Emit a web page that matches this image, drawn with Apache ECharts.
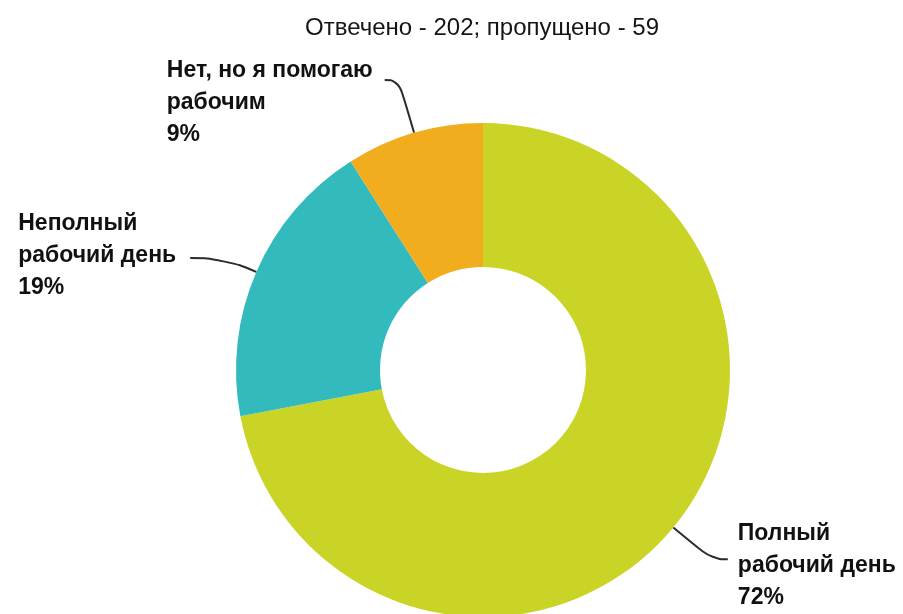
<!DOCTYPE html>
<html>
<head>
<meta charset="utf-8">
<script src="https://cdn.jsdelivr.net/npm/echarts@6/dist/echarts.min.js"></script>
<style>
  html, body { margin: 0; padding: 0; background: #ffffff; }
  #chart { width: 903px; height: 614px; }
</style>
</head>
<body>
<div id="chart"></div>
<script>
// Survey answers: share of respondents by employment type
const titleText = 'Отвечено - 202; пропущено - 59';
const categories = ['Полный\nрабочий день', 'Неполный\nрабочий день', 'Нет, но я помогаю\nрабочим'];
const percents = [72, 19, 9];
const sliceColors = ['#cad426', '#33babd', '#f2ad1e'];

// Leader line lengths and label placement relative to the line end
const leader = [
  { length: 50, length2: 16, side: 'right', gap: 10, top: -42 },
  { length: 35, length2: 34, side: 'left', gap: 14, top: -50 },
  { length: 55, length2: 14, side: 'left', gap: 12, top: -25 }
];

const chart = echarts.init(document.getElementById('chart'), null, { renderer: 'canvas' });

const fontFamily = '"Liberation Sans", Arial, sans-serif';

chart.setOption({
  backgroundColor: '#ffffff',
  animation: false,
  title: {
    text: titleText,
    left: 300,
    top: 11,
    textStyle: { fontFamily, fontSize: 24, fontWeight: 'normal', color: '#151515' }
  },
  series: [{
    type: 'pie',
    center: [483, 370],
    radius: [103, 247],
    startAngle: 90,
    clockwise: true,
    avoidLabelOverlap: false,
    label: {
      show: true,
      position: 'outside',
      formatter: '{b}\n{c}%',
      fontFamily,
      fontSize: 23,
      fontWeight: 'bold',
      lineHeight: 32,
      color: '#111111'
    },
    labelLine: {
      show: true,
      smooth: 0.5,
      lineStyle: { color: '#2b2b2b', width: 2 }
    },
    labelLayout: function (params) {
      const cfg = leader[params.dataIndex];
      const pts = params.labelLinePoints;
      if (!pts) return {};
      const end = pts[pts.length - 1];
      const w = params.labelRect.width;
      const x = cfg.side === 'right' ? end[0] + cfg.gap : end[0] - cfg.gap - w;
      return {
        x: x,
        y: end[1] + cfg.top,
        align: 'left',
        verticalAlign: 'top',
        labelLinePoints: pts.map(p => [p[0], p[1]])
      };
    },
    data: categories.map((name, i) => ({
      name: name,
      value: percents[i],
      itemStyle: { color: sliceColors[i] },
      labelLine: { length: leader[i].length, length2: leader[i].length2 }
    }))
  }]
});
</script>
</body>
</html>
